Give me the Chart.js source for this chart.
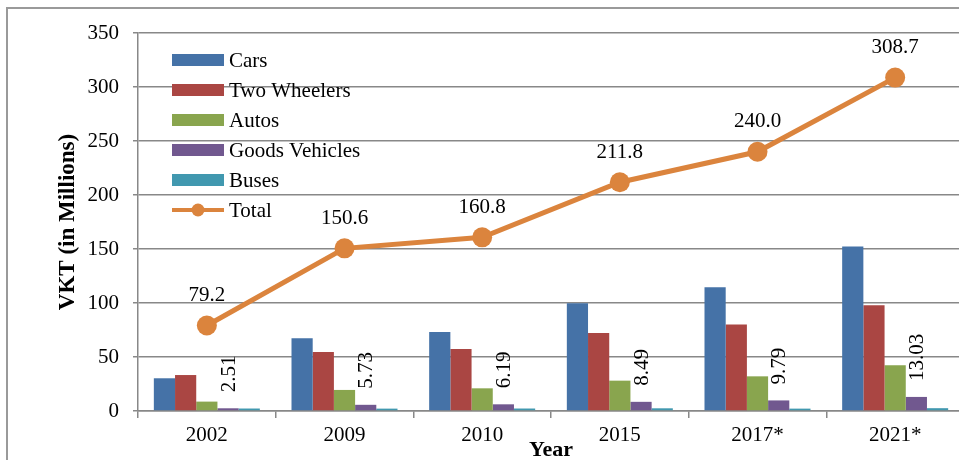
<!DOCTYPE html>
<html>
<head>
<meta charset="utf-8">
<script src="https://cdn.jsdelivr.net/npm/chart.js@4.4.1/dist/chart.umd.min.js"></script>
<style>
  html, body { margin: 0; padding: 0; background: #fff; overflow: hidden; }
  #wrap { position: absolute; left: 0; top: 0; width: 980px; height: 460px; }
</style>
</head>
<body>
<div id="wrap"><canvas id="chart"></canvas></div>
<script>
// values
const years = ['2002', '2009', '2010', '2015', '2017*', '2021*'];
const cars = [30.3, 67.3, 73.2, 99.7, 114.5, 152.2];
const twoWheelers = [33.3, 54.6, 57.4, 72.2, 80.0, 97.9];
const autos = [8.7, 19.5, 21.0, 28.1, 32.1, 42.3];
const goodsVehicles = [2.51, 5.73, 6.19, 8.49, 9.79, 13.03];
const buses = [2.3, 2.2, 2.3, 2.5, 2.2, 2.6];
const total = [79.2, 150.6, 160.8, 211.8, 240.0, 308.7];

const serif = "'Liberation Serif', 'Times New Roman', serif";
const gridGray = '#888888';

const colors = {
    cars: '#4572A7',
    two: '#AA4643',
    autos: '#89A54E',
    goods: '#71588F',
    buses: '#4198AF',
    total: '#DB843D'
};

// draws the frame, the in-plot legend and the value labels
const extras = {
    id: 'extras',
    beforeDraw(chart) {
        const ctx = chart.ctx;
        ctx.save();
        ctx.strokeStyle = '#9a9a9a';
        ctx.lineWidth = 2;
        ctx.strokeRect(7, 8, 1200, 1200);
        ctx.restore();
    },
    afterDatasetsDraw(chart) {
        const ctx = chart.ctx;
        ctx.save();
        ctx.font = '21px ' + serif;
        ctx.fillStyle = '#000';

        // totals above the line points
        const lineMeta = chart.getDatasetMeta(0);
        ctx.textAlign = 'center';
        ctx.textBaseline = 'middle';
        lineMeta.data.forEach((pt, i) => {
            ctx.fillText(total[i].toFixed(1), pt.x, pt.y - 30);
        });

        // goods vehicle values, rotated
        const goodsMeta = chart.getDatasetMeta(4);
        goodsMeta.data.forEach((bar, i) => {
            ctx.save();
            ctx.translate(bar.x, bar.y - 16);
            ctx.rotate(-Math.PI / 2);
            ctx.textAlign = 'left';
            ctx.textBaseline = 'middle';
            ctx.fillText(goodsVehicles[i].toFixed(2), 0, 1);
            ctx.restore();
        });

        // legend
        const items = chart.data.datasets.slice(1).concat([chart.data.datasets[0]]);
        const x0 = 172, boxW = 52, boxH = 12;
        items.forEach((ds, i) => {
            const cy = 60 + i * 30;
            if (ds.type === 'line') {
                ctx.strokeStyle = ds.borderColor;
                ctx.lineWidth = 4;
                ctx.beginPath();
                ctx.moveTo(x0, cy);
                ctx.lineTo(x0 + boxW, cy);
                ctx.stroke();
                ctx.fillStyle = ds.borderColor;
                ctx.beginPath();
                ctx.arc(x0 + boxW / 2, cy, 6.5, 0, Math.PI * 2);
                ctx.fill();
            } else {
                ctx.fillStyle = ds.backgroundColor;
                ctx.fillRect(x0, cy - boxH / 2, boxW, boxH);
            }
            ctx.fillStyle = '#000';
            ctx.textAlign = 'left';
            ctx.textBaseline = 'middle';
            ctx.fillText(ds.label, x0 + boxW + 5, cy + 1);
        });
        ctx.restore();
    }
};

new Chart(document.getElementById('chart'), {
    type: 'bar',
    data: {
        labels: years,
        datasets: [
            {
                type: 'line',
                label: 'Total',
                data: total,
                borderColor: colors.total,
                backgroundColor: colors.total,
                borderWidth: 5,
                pointRadius: 10,
                pointHoverRadius: 10,
                pointBackgroundColor: colors.total,
                pointBorderWidth: 0,
                tension: 0,
                order: 0
            },
            { label: 'Cars', data: cars, backgroundColor: colors.cars, order: 1 },
            { label: 'Two Wheelers', data: twoWheelers, backgroundColor: colors.two, order: 1 },
            { label: 'Autos', data: autos, backgroundColor: colors.autos, order: 1 },
            { label: 'Goods Vehicles', data: goodsVehicles, backgroundColor: colors.goods, order: 1 },
            { label: 'Buses', data: buses, backgroundColor: colors.buses, order: 1 }
        ]
    },
    options: {
        responsive: true,
        maintainAspectRatio: false,
        animation: false,
        datasets: {
            bar: { categoryPercentage: 0.77, barPercentage: 1.0, borderWidth: 0 }
        },
        layout: { padding: { left: 0, right: 16, top: 33, bottom: 0 } },
        plugins: {
            legend: { display: false },
            tooltip: { enabled: false }
        },
        scales: {
            x: {
                afterFit(scale) { scale.height = 49; },
                grid: { drawOnChartArea: false, drawTicks: true, tickLength: 7, color: gridGray, lineWidth: 1.5 },
                border: { color: gridGray, width: 1.5 },
                ticks: { color: '#000', font: { family: serif, size: 21 }, padding: 5, maxRotation: 0 },
                title: {
                    display: true,
                    text: 'Year',
                    color: '#000',
                    font: { family: serif, size: 22, weight: 'bold' },
                    padding: { top: 0, bottom: -4 }
                }
            },
            y: {
                min: 0,
                max: 350,
                afterFit(scale) { scale.width = 138; },
                grid: { color: gridGray, lineWidth: 1.5, tickLength: 5 },
                border: { color: gridGray, width: 1.5 },
                ticks: { stepSize: 50, color: '#000', font: { family: serif, size: 21 }, padding: 14 },
                title: {
                    display: true,
                    text: 'VKT (in Millions)',
                    color: '#000',
                    font: { family: serif, size: 23, weight: 'bold' },
                    padding: { top: 54, bottom: 0 }
                }
            }
        }
    },
    plugins: [extras]
});
</script>
</body>
</html>
